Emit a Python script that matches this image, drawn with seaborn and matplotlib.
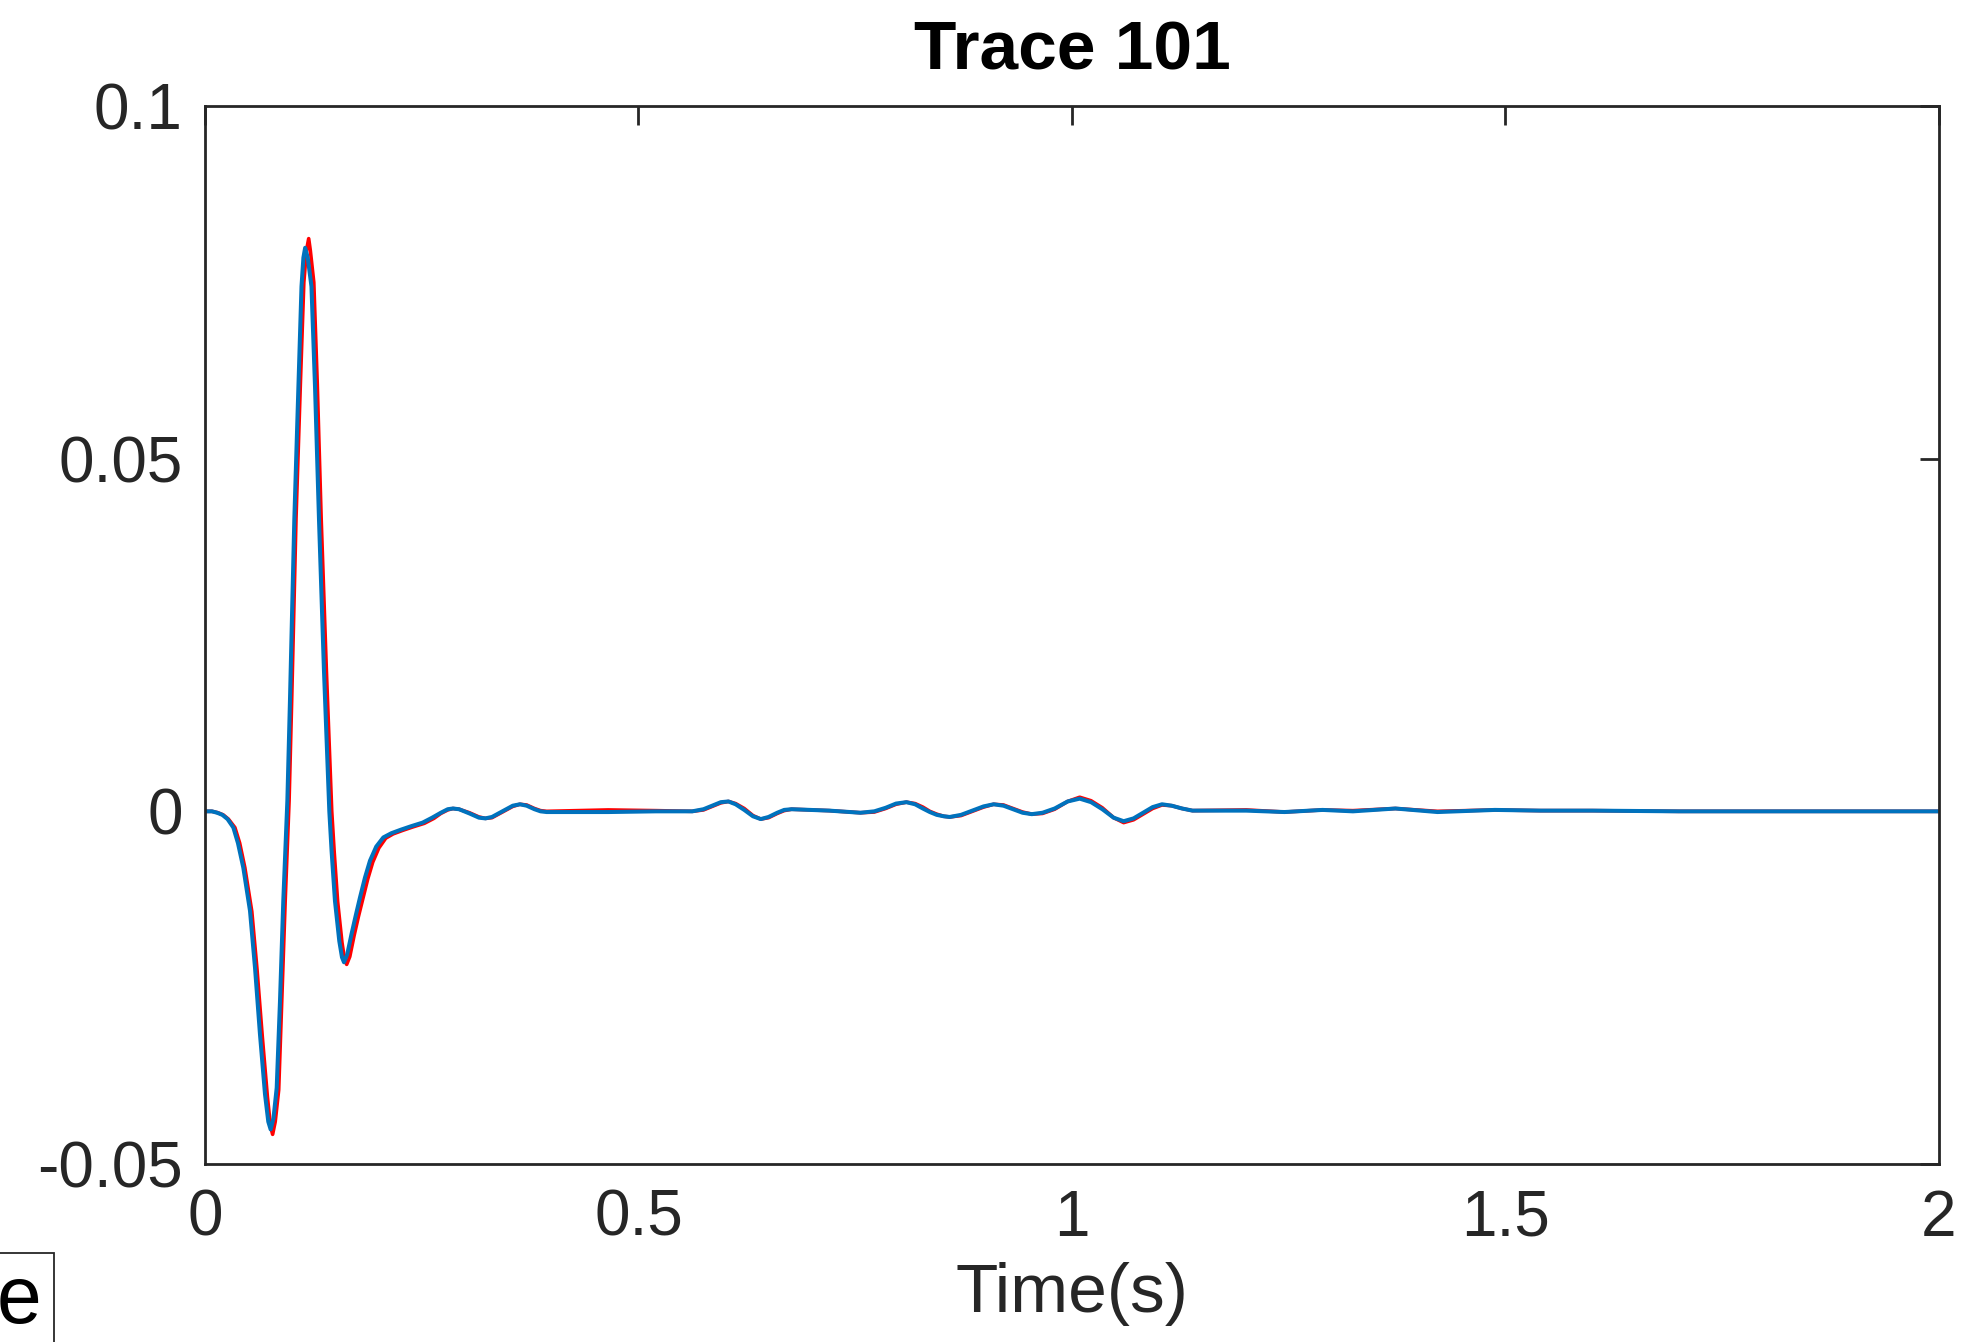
import matplotlib
matplotlib.use("Agg")
import matplotlib.pyplot as plt
import seaborn as sns
import pandas as pd
from matplotlib.patches import Rectangle

# ---------------- data ----------------
title = "Trace 101"
xlabel = "Time(s)"
xticks = [0, 0.5, 1, 1.5, 2]
xtick_labels = ["0", "0.5", "1", "1.5", "2"]
yticks = [-0.05, 0, 0.05, 0.1]
ytick_labels = ["-0.05", "0", "0.05", "0.1"]

blue_t = [0, 0.008, 0.014, 0.020, 0.026, 0.0327, 0.038, 0.0442, 0.0519, 0.0577,
          0.0634, 0.0692, 0.0730, 0.0757, 0.0790, 0.0827, 0.0865, 0.0903, 0.0934, 0.0950,
          0.0980, 0.1030, 0.1077, 0.1113, 0.1135, 0.1155, 0.1185, 0.1228, 0.1269, 0.1315,
          0.1372, 0.1434, 0.1460, 0.1499, 0.1549, 0.1580, 0.1603, 0.1640, 0.1690, 0.1740,
          0.1788, 0.1845, 0.1903, 0.1975, 0.2057, 0.215, 0.226, 0.238, 0.251, 0.262,
          0.272, 0.280, 0.286, 0.293, 0.305, 0.316, 0.3234, 0.331, 0.343, 0.355,
          0.3632, 0.371, 0.380, 0.387, 0.394, 0.43, 0.465, 0.52, 0.562, 0.575,
          0.585, 0.595, 0.6037, 0.612, 0.622, 0.632, 0.641, 0.650, 0.660, 0.668,
          0.6766, 0.72, 0.756, 0.772, 0.785, 0.797, 0.809, 0.819, 0.828, 0.836,
          0.844, 0.852, 0.859, 0.872, 0.885, 0.898, 0.9096, 0.921, 0.932, 0.943,
          0.9536, 0.966, 0.980, 0.995, 1.0089, 1.022, 1.035, 1.048, 1.0596, 1.071,
          1.082, 1.093, 1.1038, 1.115, 1.127, 1.139, 1.201, 1.245, 1.289, 1.324,
          1.373, 1.4216, 1.4878, 1.54, 1.6, 1.7, 1.8, 1.9, 2.0]
blue_v = [0, 0.0, -0.0002, -0.0005, -0.0011, -0.0023, -0.0045, -0.0080, -0.0141, -0.0222,
          -0.0316, -0.0401, -0.0440, -0.0451, -0.0435, -0.0392, -0.0269, -0.0127, -0.0032, 0.0015,
          0.0157, 0.0413, 0.0602, 0.0744, 0.0785, 0.0799, 0.0785, 0.0744, 0.0602, 0.0413,
          0.0200, 0.0000, -0.0056, -0.0127, -0.0184, -0.0207, -0.0214, -0.0203, -0.0174, -0.0147,
          -0.0122, -0.0094, -0.0070, -0.0050, -0.0037, -0.0031, -0.0026, -0.0021, -0.0016, -0.0009,
          -0.0002, 0.0003, 0.0004, 0.0003, -0.0003, -0.0009, -0.0010, -0.0008, 0.0000, 0.0008,
          0.0010, 0.0008, 0.0003, 0.0000, -0.0001, -0.0001, -0.0001, 0.0000, 0.0000, 0.0003,
          0.0008, 0.0013, 0.0014, 0.0010, 0.0002, -0.0007, -0.0011, -0.0008, -0.0002, 0.0002,
          0.0003, 0.0001, -0.0002, 0.0000, 0.0005, 0.0011, 0.0013, 0.0010, 0.0004, -0.0001,
          -0.0005, -0.0007, -0.0008, -0.0005, 0.0001, 0.0007, 0.0010, 0.0008, 0.0003, -0.0002,
          -0.0004, -0.0002, 0.0004, 0.0014, 0.0018, 0.0013, 0.0003, -0.0009, -0.0014, -0.0010,
          -0.0002, 0.0006, 0.0010, 0.0008, 0.0004, 0.0001, 0.0001, -0.0001, 0.0002, 0.0000,
          0.0004, -0.0001, 0.0002, 0.0001, 0.0001, 0.0, 0.0, 0.0, 0.0]

red_t = [0, 0.008, 0.015, 0.021, 0.027, 0.0345, 0.040, 0.0460, 0.0540, 0.0600,
         0.0660, 0.0720, 0.0755, 0.0780, 0.0810, 0.0850, 0.0885, 0.0925, 0.0955, 0.0970,
         0.1000, 0.1050, 0.1100, 0.1140, 0.1170, 0.1196, 0.1215, 0.1255, 0.1295, 0.1340,
         0.1400, 0.1462, 0.1490, 0.1530, 0.1580, 0.1610, 0.1634, 0.1670, 0.1720, 0.1770,
         0.1820, 0.1877, 0.1935, 0.2005, 0.2085, 0.217, 0.228, 0.240, 0.253, 0.264,
         0.272, 0.280, 0.286, 0.293, 0.305, 0.316, 0.3234, 0.331, 0.343, 0.355,
         0.3632, 0.371, 0.380, 0.387, 0.394, 0.43, 0.465, 0.52, 0.562, 0.575,
         0.585, 0.595, 0.6037, 0.612, 0.622, 0.632, 0.641, 0.650, 0.660, 0.668,
         0.6766, 0.72, 0.756, 0.772, 0.785, 0.797, 0.809, 0.819, 0.828, 0.836,
         0.844, 0.852, 0.859, 0.872, 0.885, 0.898, 0.9096, 0.921, 0.932, 0.943,
         0.9536, 0.966, 0.980, 0.995, 1.0089, 1.022, 1.035, 1.048, 1.0596, 1.071,
         1.082, 1.093, 1.1038, 1.115, 1.127, 1.139, 1.201, 1.245, 1.289, 1.324,
         1.373, 1.4216, 1.4878, 1.54, 1.6, 1.7, 1.8, 1.9, 2.0]
red_v = [0, 0.0, -0.0002, -0.0005, -0.0011, -0.0023, -0.0045, -0.0080, -0.0142, -0.0224,
         -0.0318, -0.0405, -0.0446, -0.0458, -0.0440, -0.0395, -0.0270, -0.0127, -0.0032, 0.0015,
         0.0158, 0.0416, 0.0606, 0.0750, 0.0795, 0.0812, 0.0795, 0.0750, 0.0606, 0.0415,
         0.0200, 0.0000, -0.0057, -0.0128, -0.0186, -0.0210, -0.0217, -0.0206, -0.0176, -0.0149,
         -0.0124, -0.0096, -0.0072, -0.0052, -0.0038, -0.0032, -0.0027, -0.0022, -0.0017, -0.0010,
         -0.0003, 0.0002, 0.0004, 0.0003, -0.0002, -0.0008, -0.0010, -0.0009, -0.0001, 0.0007,
         0.0010, 0.0009, 0.0004, 0.0001, 0.0000, 0.0001, 0.0002, 0.0001, 0.0000, 0.0002,
         0.0007, 0.0012, 0.0014, 0.0011, 0.0004, -0.0006, -0.0011, -0.0009, -0.0003, 0.0001,
         0.0003, 0.0001, -0.0002, -0.0001, 0.0004, 0.0010, 0.0013, 0.0011, 0.0006, 0.0000,
         -0.0004, -0.0007, -0.0008, -0.0006, 0.0000, 0.0006, 0.0010, 0.0009, 0.0004, -0.0001,
         -0.0004, -0.0003, 0.0003, 0.0014, 0.0020, 0.0015, 0.0005, -0.0009, -0.0016, -0.0012,
         -0.0004, 0.0004, 0.0009, 0.0008, 0.0004, 0.0001, 0.0002, -0.0001, 0.0002, 0.0001,
         0.0004, 0.0000, 0.0002, 0.0001, 0.0001, 0.0, 0.0, 0.0, 0.0]

assert len(blue_t) == len(blue_v) and len(red_t) == len(red_v)

red_df = pd.DataFrame({"t": red_t, "v": red_v})
blue_df = pd.DataFrame({"t": blue_t, "v": blue_v})

# ---------------- style ----------------
sns.set_style("white")
plt.rcParams["font.family"] = ["Liberation Sans", "DejaVu Sans"]
plt.rcParams["axes.unicode_minus"] = False

W, H = 1983, 1342
fig = plt.figure(figsize=(W / 100, H / 100), dpi=100)
ax_l, ax_r, ax_t, ax_b = 205, 1939, 106, 1164
ax = fig.add_axes([ax_l / W, (H - ax_b) / H, (ax_r - ax_l) / W, (ax_b - ax_t) / H])

sns.lineplot(data=red_df, x="t", y="v", ax=ax, color="#FF0000", linewidth=2.6,
             estimator=None, sort=False, legend=False)
sns.lineplot(data=blue_df, x="t", y="v", ax=ax, color="#0072BD", linewidth=2.9,
             estimator=None, sort=False, legend=False)

ax.set_xlim(0, 2)
ax.set_ylim(-0.05, 0.1)
ax.set_xticks(xticks)
ax.set_xticklabels(xtick_labels)
ax.set_yticks(yticks)
ax.set_yticklabels(ytick_labels)

dark = "#262626"
for s in ax.spines.values():
    s.set_visible(True)
    s.set_color(dark)
    s.set_linewidth(2.0)
ax.tick_params(axis="both", which="major", direction="in", length=14, width=2.0,
               colors=dark, labelsize=46, top=True, right=True)
ax.tick_params(axis="x", pad=18)
ax.tick_params(axis="y", pad=16)

ax.set_xlabel(xlabel, fontsize=50, color=dark, labelpad=9)
ax.set_ylabel("")
ax.set_title(title, fontsize=50, fontweight="bold", color="black", pad=26)

# clipped legend box at the lower left edge
fig.patches.append(Rectangle((-20 / W, -20 / H), 74 / W, (H - 1253 + 20) / H,
                             transform=fig.transFigure, fill=False,
                             edgecolor=dark, linewidth=1.3))
fig.text(41 / W, (H - 1323) / H, "e", ha="right", va="baseline", fontsize=58,
         color="black")

fig.savefig("out.png", dpi=100)
